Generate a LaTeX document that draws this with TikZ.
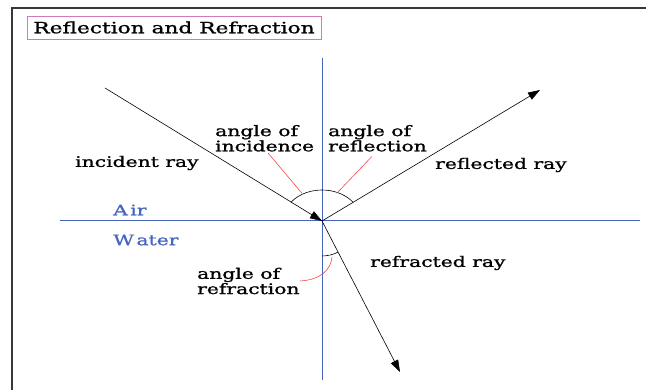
\documentclass[tikz,border=0pt]{standalone}
\usepackage{fontspec}
\setmainfont{DejaVu Serif}[FakeStretch=1.4,FakeBold=1.2]
\usepackage{xcolor}
\usepackage{tikz}
\usetikzlibrary{positioning,arrows.meta}
\definecolor{optblue}{RGB}{70,102,190}
\definecolor{optpink}{RGB}{208,120,192}
\definecolor{optred}{RGB}{250,72,72}
\definecolor{optframe}{RGB}{55,55,55}

\begin{document}
\begin{tikzpicture}[x=1pt,y=1pt, every node/.style={font=\fontsize{14.5}{13.5}\selectfont,inner sep=0pt},
    ray/.style={draw=black,line width=0.6pt},
    tip/.style={-{Triangle[length=12pt,width=8pt]}},
    lbl/.style={anchor=west,align=left}]
  \useasboundingbox (0,0) rectangle (647,390);
  \draw[optframe,line width=2pt] (12,0) -- (12,382) -- (646,382);
  \node[draw=optpink,line width=0.8pt,minimum width=294pt,minimum height=23pt,font=\fontsize{15.5}{16}\selectfont] (title) at (174,362.5) {Reflection and Refraction};

  \coordinate (O) at (322,169);
  \coordinate (inc) at (105,302);
  \coordinate (refl) at (540,300);
  \coordinate (refr) at (400,18);
  \draw[optblue,line width=1pt] (322,332) -- (322,10);
  \draw[optblue,line width=1pt] (60,169) -- (640,169);

  \draw[ray,tip] (inc) -- (O);
  \draw[ray,tip] (O) -- (refl);
  \draw[ray,tip] (O) -- (refr);
  \draw[ray] (O) ++(143:39 and 31) arc[start angle=143,end angle=37,x radius=39,y radius=31];
  \draw[ray] (O) ++(0,-35) arc[start angle=-90,end angle=-63,radius=35];

  \node[lbl] (incray) at (75,227) {incident ray};
  \node[lbl] (reflray) at (435,225) {reflected ray};
  \node[lbl] (refrray) at (370,127) {refracted ray};
  \node[lbl] (incang) at (215,251.7) {angle of\\incidence};
  \node[lbl] (reflang) at (328,251.7) {angle of\\reflection};
  \node[lbl] (refrang) at (197,109) {angle of\\refraction};
  \node[lbl,optblue] (air) at (113,180) {A\,ir};
  \node[lbl,optblue] (water) at (113,150) {W\,ater};

  \coordinate (p1) at (268,237);
  \coordinate (p2) at (302,196.7);
  \coordinate (p3) at (371.7,233.3);
  \coordinate (p4) at (336.7,196.7);
  \draw[optred,line width=0.6pt] (p1) -- (p2);
  \draw[optred,line width=0.6pt] (p3) -- (p4);
  \draw[optred,line width=0.6pt] (refrang.east) .. controls (320,110) and (331,120) .. (332,133);
\end{tikzpicture}
\end{document}
